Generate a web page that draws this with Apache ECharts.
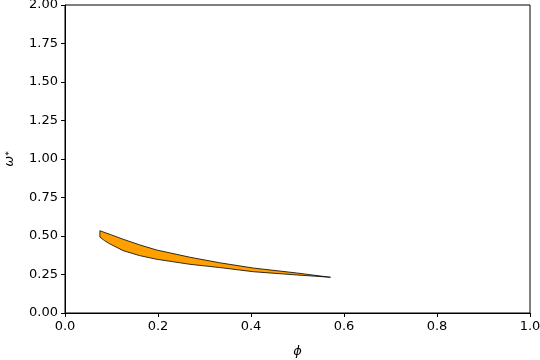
<!DOCTYPE html>
<html>
<head>
<meta charset="utf-8">
<script src="https://cdn.jsdelivr.net/npm/echarts@6/dist/echarts.min.js"></script>
<style>html,body{margin:0;padding:0;background:#fff}#c{width:540px;height:360px}</style>
</head>
<body>
<div id="c"></div>
<script>
var upperX = [0.075, 0.100, 0.125, 0.160, 0.197, 0.269, 0.333, 0.405, 0.498, 0.571];
var upperY = [0.534, 0.507, 0.479, 0.443, 0.409, 0.362, 0.326, 0.292, 0.260, 0.232];
var lowerX = [0.075, 0.085, 0.097, 0.125, 0.160, 0.197, 0.269, 0.333, 0.405, 0.498, 0.571];
var lowerY = [0.493, 0.470, 0.448, 0.405, 0.373, 0.349, 0.316, 0.295, 0.268, 0.247, 0.232];
var xTicks = ["0.0", "0.2", "0.4", "0.6", "0.8", "1.0"];
var yTicks = ["0.00", "0.25", "0.50", "0.75", "1.00", "1.25", "1.50", "1.75", "2.00"];

var verts = [];
for (var i = 0; i < upperX.length; i++) verts.push([upperX[i], upperY[i]]);
for (var j = lowerX.length - 1; j >= 0; j--) verts.push([lowerX[j], lowerY[j]]);

var chart = echarts.init(document.getElementById('c'));
var font = 'DejaVu Sans';
chart.setOption({
  animation: false,
  grid: {left: 65, right: 10, top: 5, bottom: 47, show: true, borderColor: '#000', borderWidth: 1,
         containLabel: false, outerBoundsMode: 'none'},
  xAxis: {
    type: 'value', min: 0, max: 1, interval: 0.2,
    axisLine: {show: true, lineStyle: {color: '#000', width: 1}},
    axisTick: {show: true, length: 4, lineStyle: {color: '#000'}},
    splitLine: {show: false},
    axisLabel: {color: '#000', fontFamily: font, fontSize: 13, margin: 7,
      formatter: function (v) { return xTicks[Math.round(v / 0.2)]; }},
    name: 'ϕ', nameLocation: 'middle', nameGap: 32,
    nameTextStyle: {color: '#000', fontFamily: font, fontSize: 13, fontStyle: 'italic'}
  },
  yAxis: {
    type: 'value', min: 0, max: 2, interval: 0.25,
    axisLine: {show: true, lineStyle: {color: '#000', width: 1}},
    axisTick: {show: true, length: 4, lineStyle: {color: '#000'}},
    splitLine: {show: false},
    axisLabel: {color: '#000', fontFamily: font, fontSize: 13, margin: 7,
      formatter: function (v) { return yTicks[Math.round(v / 0.25)]; }},
    name: '{a|ω}{b|*}', nameLocation: 'middle', nameGap: 47, nameRotate: 90,
    nameTextStyle: {color: '#000', fontFamily: font, fontSize: 13,
      rich: {a: {fontFamily: font, fontSize: 13, fontStyle: 'italic', color: '#000', verticalAlign: 'bottom', height: 16},
             b: {fontFamily: font, fontSize: 9, color: '#000', verticalAlign: 'top', height: 16}}}
  },
  series: [{
    type: 'custom',
    data: verts,
    renderItem: function (params, api) {
      if (params.dataIndex !== 0) return null;
      var pts = verts.map(function (p) { return api.coord(p); });
      return {
        type: 'polygon',
        shape: {points: pts},
        style: {fill: '#ffa000', stroke: '#000', lineWidth: 0.8}
      };
    }
  }]
});
</script>
</body>
</html>
